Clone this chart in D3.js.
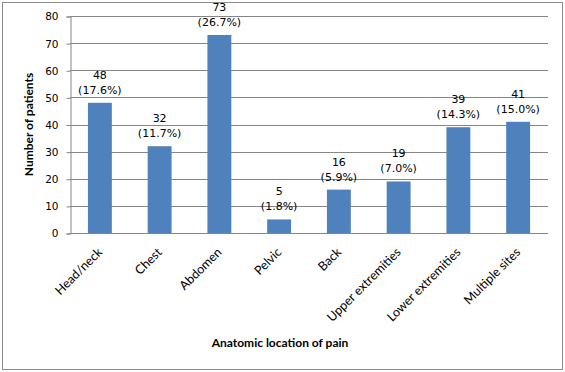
<!DOCTYPE html>
<html>
<head>
<meta charset="utf-8">
<script src="https://cdn.jsdelivr.net/npm/d3@7"></script>
<style>
  body { margin: 0; background: #fff; }
  text { fill: #000; }
</style>
</head>
<body>
<svg id="chart" width="565" height="372"></svg>
<script>
// values
var categories = ["Head/neck", "Chest", "Abdomen", "Pelvic", "Back", "Upper extremities", "Lower extremities", "Multiple sites"];
var patients = [48, 32, 73, 5, 16, 19, 39, 41];
var percents = ["17.6%", "11.7%", "26.7%", "1.8%", "5.9%", "7.0%", "14.3%", "15.0%"];
var yTicks = [0, 10, 20, 30, 40, 50, 60, 70, 80];

var svg = d3.select("#chart");
var plotLeft = 70, plotRight = 548, plotTop = 16, plotBottom = 233;

// outer frame
svg.append("rect")
    .attr("x", 2.5).attr("y", 2.5)
    .attr("width", 560).attr("height", 367)
    .attr("fill", "none")
    .attr("stroke", "#8c8c8c");

var x = d3.scaleBand()
    .domain(categories)
    .range([plotLeft, plotRight])
    .paddingInner(0.6)
    .paddingOuter(0.3);

var y = d3.scaleLinear()
    .domain([0, 80])
    .range([plotBottom, plotTop]);

// grid
svg.append("g").selectAll("line")
    .data(yTicks.filter(function(d) { return d > 0; }))
    .enter().append("line")
    .attr("x1", plotLeft).attr("x2", plotRight)
    .attr("y1", function(d) { return Math.round(y(d)) + 0.5; })
    .attr("y2", function(d) { return Math.round(y(d)) + 0.5; })
    .attr("stroke", "#868686");

// y axis
var yAxis = svg.append("g")
    .attr("transform", "translate(" + (plotLeft + 0.5) + ",0.5)")
    .call(d3.axisLeft(y).tickValues(yTicks).tickSize(4).tickPadding(8));
yAxis.select(".domain").attr("stroke", "#868686");
yAxis.selectAll(".tick line").attr("stroke", "#868686");
yAxis.selectAll("text")
    .attr("font-family", "DejaVu Sans, Verdana, sans-serif")
    .attr("font-size", 10.5)
    .attr("fill", "#000");

// bars
svg.append("g").selectAll("rect")
    .data(patients)
    .enter().append("rect")
    .attr("x", function(d, i) { return x(categories[i]); })
    .attr("y", function(d) { return y(d); })
    .attr("width", x.bandwidth())
    .attr("height", function(d) { return plotBottom - y(d); })
    .attr("fill", "#4f81bd");

// x axis line
svg.append("line")
    .attr("x1", plotLeft).attr("x2", plotRight)
    .attr("y1", plotBottom + 0.5).attr("y2", plotBottom + 0.5)
    .attr("stroke", "#868686");

// data labels
var labels = svg.append("g")
    .attr("font-family", "DejaVu Sans, Verdana, sans-serif")
    .attr("font-size", 11)
    .attr("text-anchor", "middle");
labels.selectAll("text.n")
    .data(patients)
    .enter().append("text")
    .attr("class", "n")
    .attr("x", function(d, i) { return x(categories[i]) + x.bandwidth() / 2; })
    .attr("y", function(d) { return y(d) - 24; })
    .text(function(d) { return d; });
labels.selectAll("text.p")
    .data(percents)
    .enter().append("text")
    .attr("class", "p")
    .attr("x", function(d, i) { return x(categories[i]) + x.bandwidth() / 2; })
    .attr("y", function(d, i) { return y(patients[i]) - 9; })
    .text(function(d) { return "(" + d + ")"; });

// category labels, rotated
svg.append("g").selectAll("text")
    .data(categories)
    .enter().append("text")
    .attr("font-family", "Lato, sans-serif")
    .attr("font-size", 12.5)
    .attr("text-anchor", "end")
    .attr("transform", function(d) {
        return "translate(" + (x(d) + x.bandwidth() / 2 + 3) + "," + (plotBottom + 20) + ") rotate(-45)";
    })
    .text(function(d) { return d; });

// axis titles
svg.append("text")
    .attr("x", 280).attr("y", 347)
    .attr("text-anchor", "middle")
    .attr("font-family", "Lato, sans-serif")
    .attr("font-weight", "bold")
    .attr("font-size", 12)
    .text("Anatomic location  of pain");

svg.append("text")
    .attr("transform", "translate(33," + ((plotTop + plotBottom) / 2) + ") rotate(-90)")
    .attr("text-anchor", "middle")
    .attr("font-family", "Lato, sans-serif")
    .attr("font-weight", "bold")
    .attr("font-size", 12)
    .text("Number of patients");
</script>
</body>
</html>
